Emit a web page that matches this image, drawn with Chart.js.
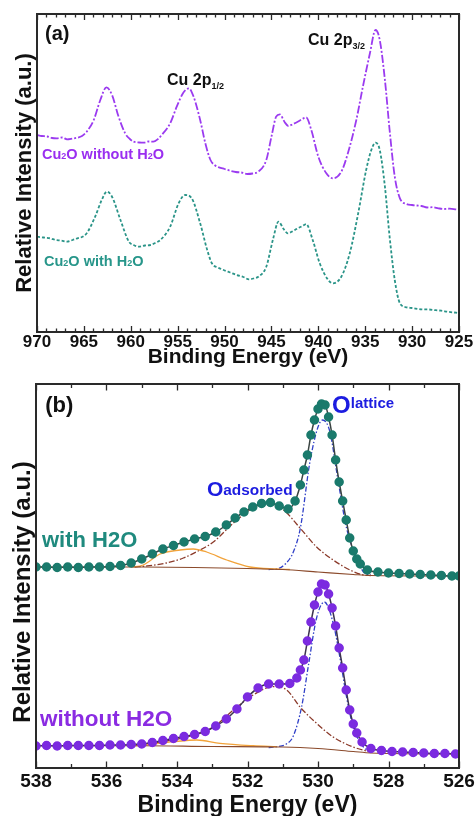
<!DOCTYPE html>
<html>
<head>
<meta charset="utf-8">
<script src="https://cdn.jsdelivr.net/npm/chart.js@4.4.0/dist/chart.umd.min.js"></script>
<style>
    body { margin: 0; background: #fff; }
    .panel { position: absolute; left: 0; }
</style>
</head>
<body>
<canvas id="chartA" class="panel" width="476" height="372" style="top:0"></canvas>
<canvas id="chartB" class="panel" width="476" height="444" style="top:372px"></canvas>
<script>
// Data (a) Cu 2p

const energyDryA = [970.0, 969.5, 968.9, 968.4, 967.9, 967.3, 966.8, 966.2, 965.7, 965.2, 964.7, 963.95, 963.25, 962.6, 962.0, 961.3, 960.6, 960.1, 959.7, 959.1, 958.6, 958.1, 957.6, 957.1, 956.7, 955.8, 955.1, 954.4, 953.8, 953.3, 952.6, 952.05, 951.5, 951.0, 950.6, 950.0, 949.4, 948.8, 948.2, 947.6, 947.0, 946.4, 945.55, 945.0, 944.5, 944.1, 943.6, 943.2, 942.7, 942.2, 941.7, 941.3, 940.75, 940.0, 939.15, 938.45, 937.55, 936.85, 935.95, 935.25, 934.5, 933.9, 933.45, 932.9, 932.4, 931.85, 931.3, 930.6, 930.0, 929.5, 929.0, 928.4, 927.8, 927.2, 926.6, 926.0, 925.3, 925.0];
const cuDry = [197, 196, 195.5, 194, 193.7, 194.5, 192.7, 193.5, 194.3, 196, 200.3, 212, 232, 244.7, 237, 215.3, 198.7, 193, 190.3, 189.5, 189.3, 190.5, 190.3, 193, 197, 208.7, 225.3, 239.3, 243.7, 235.3, 212, 188.7, 172, 166.5, 164.7, 163, 161.3, 160, 159.5, 158, 158.5, 160.3, 172, 195.3, 215.3, 217.7, 210, 206, 208, 210.3, 213, 214.7, 202, 175.3, 158.7, 153.7, 160.3, 178.7, 212, 245.3, 278.7, 302, 292, 252, 202, 155.3, 133.7, 128, 127, 126.5, 126, 124.5, 124.8, 123.7, 123, 123.3, 122.7, 122.5];

const energyWetA = [970.0, 969.3, 968.6, 968.0, 967.4, 966.8, 966.2, 965.7, 965.2, 964.7, 963.8, 963.1, 962.55, 962.0, 961.1, 960.2, 959.7, 959.15, 958.5, 957.9, 957.4, 956.85, 955.8, 954.9, 954.2, 953.5, 952.6, 951.85, 951.35, 950.7, 950.1, 949.4, 948.7, 948.0, 947.4, 946.9, 946.4, 945.55, 944.85, 944.25, 943.7, 943.25, 942.7, 942.2, 941.7, 941.3, 940.6, 939.85, 938.95, 938.45, 937.55, 936.65, 935.75, 934.9, 934.35, 933.9, 933.45, 932.9, 932.4, 931.85, 931.3, 930.6, 930.0, 929.0, 928.2, 927.5, 926.9, 926.2, 925.3, 925.0];
const cuWet = [95.3, 94.5, 93.7, 92, 91.5, 90.3, 92, 93.7, 95, 98.7, 115.3, 132, 140.3, 135.3, 112, 90.3, 87, 85.3, 86.5, 87, 89, 92, 105.3, 128.7, 137, 133.7, 108.7, 82, 68.7, 64.5, 62, 59.5, 57, 55, 52.7, 53.5, 55.3, 65.3, 92, 110.3, 103, 98.7, 101, 103.7, 106, 108, 92, 68.7, 52, 48.7, 55.3, 78.7, 118.7, 162, 182, 189.3, 182, 145.3, 95.3, 52, 28.7, 24.7, 24, 22.7, 22.5, 21.8, 21.3, 20.2, 19.3, 19];

// Data (b) O 1s

const energyWet = [538.0, 537.7, 537.4, 537.1, 536.8, 536.5, 536.2, 535.9, 535.6, 535.3, 535.0, 534.7, 534.4, 534.1, 533.8, 533.5, 533.2, 532.9, 532.6, 532.35, 532.1, 531.85, 531.6, 531.35, 531.1, 530.85, 530.65, 530.5, 530.4, 530.3, 530.2, 530.1, 530.0, 529.9, 529.8, 529.7, 529.6, 529.5, 529.4, 529.3, 529.2, 529.1, 529.0, 528.9, 528.8, 528.6, 528.3, 528.0, 527.7, 527.4, 527.1, 526.8, 526.5, 526.2, 526.0];
const oWet = [201, 201, 200.5, 201, 200.5, 201, 201, 201.5, 202.5, 205, 209, 214, 219, 222.5, 226, 229, 231.5, 236, 243, 250, 256, 261, 264.5, 265.5, 262, 259, 267, 283, 298, 313, 333, 348, 359, 364, 363, 351, 333, 308, 286, 267, 248, 230, 217, 209, 204, 198, 196, 195, 194.5, 194, 193.5, 193, 192.5, 192, 192];

const energyDry = [538.0, 537.7, 537.4, 537.1, 536.8, 536.5, 536.2, 535.9, 535.6, 535.3, 535.0, 534.7, 534.4, 534.1, 533.8, 533.5, 533.2, 532.9, 532.6, 532.3, 532.0, 531.7, 531.4, 531.1, 530.8, 530.6, 530.5, 530.4, 530.3, 530.2, 530.1, 530.0, 529.9, 529.8, 529.7, 529.6, 529.5, 529.4, 529.3, 529.2, 529.1, 529.0, 528.9, 528.75, 528.5, 528.2, 527.9, 527.6, 527.3, 527.0, 526.7, 526.4, 526.1];
const oDry = [22, 22.5, 22, 22.5, 22.5, 22.5, 22.5, 23, 23, 23.5, 24, 25.5, 27.5, 29.5, 31.5, 33.5, 36.5, 42, 49, 59, 71, 80, 84, 84, 84.5, 90, 98, 108, 127, 146, 163, 176, 184, 183, 174, 160, 142, 120, 100, 78, 58, 44, 35, 26, 19.5, 17.5, 16.5, 16, 15.5, 15, 14.5, 14.5, 14];

// fitted peaks, with H2O
const bgWetE = [538, 535, 533.5, 532, 531, 530, 529, 528.5, 526];
const bgWet = [201, 201, 200.5, 199.5, 198.5, 196, 193.5, 192.5, 192];
const latticeWetE = [531.4, 531.17, 530.9, 530.7, 530.5, 530.23, 530.0, 529.87, 529.66, 529.47, 529.19, 528.9, 528.71, 528.5];
const latticeWet = [198.5, 199, 205, 216, 240, 306, 341, 348, 336, 296, 240, 210, 196, 193];
const adsorbedWetE = [535.2, 534.86, 534.3, 533.82, 533.4, 532.97, 532.4, 531.84, 531.46, 530.98, 530.51, 530.04, 529.57, 529.09, 528.71, 528.5];
const adsorbedWet = [201, 202, 205, 210, 217, 226, 245, 260, 265, 258, 240, 221, 208, 198, 193, 192.5];
const hydroxylWetE = [535.3, 534.96, 534.48, 533.91, 533.54, 533.16, 532.59, 531.93, 531.17, 530.8];
const hydroxylWet = [201, 203, 214, 218, 219, 216, 208, 201, 199, 198.5];

// fitted peaks, without H2O
const bgDryE = [538, 535, 533, 531, 530, 529, 528.5, 526];
const bgDry = [22.3, 22.3, 21.5, 21, 19.5, 16.5, 15, 14];
const latticeDryE = [531.4, 531.17, 530.9, 530.7, 530.46, 530.27, 530.04, 529.82, 529.57, 529.38, 529.19, 529.0, 528.71, 528.43];
const latticeDry = [20.5, 21.3, 24, 32, 62, 103, 150, 166, 145, 111, 71, 41, 21, 16];
const adsorbedDryE = [535.3, 534.77, 534.2, 533.72, 532.97, 532.4, 531.84, 531.27, 530.89, 530.51, 530.04, 529.57, 529.0, 528.52];
const adsorbedDry = [22.3, 24.7, 27.5, 31, 41, 58, 73, 81.3, 78, 61, 44.7, 31, 21, 16];
const hydroxylDryE = [535.3, 535.05, 534.1, 533.44, 532.78, 531.84, 531.17];
const hydroxylDry = [22.3, 22.5, 26.3, 28, 24.7, 22.3, 21.3];

const FONT = "Arial, 'Liberation Sans', Helvetica, sans-serif";

function pts(xs, ys) {
    return xs.map((x, i) => ({ x: x, y: ys[i] }));
}

// Frame + inward ticks

const frameTicks = {
    id: 'frameTicks',
    afterDatasetsDraw(chart, args, opts) {
        const { ctx, chartArea: a, scales: { x } } = chart;
        ctx.save();
        ctx.strokeStyle = '#2a2a2a';
        ctx.lineWidth = 1.3;
        for (let v = x.min; v <= x.max + 1e-6; v += opts.minor) {
            const px = Math.round(x.getPixelForValue(v)) + 0.5;
            const r = v / opts.major;
            const len = Math.abs(r - Math.round(r)) < 1e-6 ? opts.majorLen : opts.minorLen;
            ctx.beginPath();
            ctx.moveTo(px, a.bottom);
            ctx.lineTo(px, a.bottom - len);
            ctx.moveTo(px, a.top);
            ctx.lineTo(px, a.top + len);
            ctx.stroke();
        }
        ctx.lineWidth = 2;
        ctx.strokeRect(a.left, a.top, a.right - a.left, a.bottom - a.top);
        ctx.restore();
    }
};

// Text labels inside the plot

const notes = {
    id: 'notes',
    afterDraw(chart, args, opts) {
        const { ctx, chartArea: a, scales: { x, y } } = chart;
        ctx.save();
        ctx.textBaseline = 'alphabetic';
        ctx.textAlign = 'left';
        opts.items.forEach(it => {
            let px = x.getPixelForValue(it.x);
            const py = y.getPixelForValue(it.y);
            ctx.fillStyle = it.color;
            it.parts.forEach(p => {
                ctx.font = p.font;
                ctx.fillText(p.t, px, py + (p.dy || 0));
                px += ctx.measureText(p.t).width;
            });
        });

        // y axis title
        const t = opts.yTitle;
        ctx.translate(t.x, (a.top + a.bottom) / 2 + t.dy);
        ctx.rotate(-Math.PI / 2);
        ctx.textAlign = 'center';
        ctx.textBaseline = 'middle';
        ctx.font = t.font;
        ctx.fillStyle = '#111';
        ctx.fillText(t.text, 0, 0);
        ctx.restore();
    }
};

const bold = s => 'bold ' + s + 'px ' + FONT;

// Chart (a)

new Chart(document.getElementById('chartA'), {
    type: 'line',
    data: {
        datasets: [
            {
                data: pts(energyDryA, cuDry),
                borderColor: '#9b3bf0',
                borderWidth: 1.8,
                borderDash: [8, 2, 2, 2],
                pointRadius: 0,
                cubicInterpolationMode: 'monotone'
            },
            {
                data: pts(energyWetA, cuWet),
                borderColor: '#2a9488',
                borderWidth: 1.8,
                borderDash: [3, 2],
                pointRadius: 0,
                cubicInterpolationMode: 'monotone'
            }
        ]
    },
    options: {
        responsive: false,
        animation: false,
        layout: { padding: { left: 37, right: 17, top: 14, bottom: 0 } },
        plugins: {
            legend: { display: false },
            tooltip: { enabled: false },
            frameTicks: { major: 5, minor: 1, majorLen: 6, minorLen: 3.5 },
            notes: {
                yTitle: { text: 'Relative Intensity (a.u.)', font: bold(22), x: 25, dy: 0 },
                items: [
                    { x: 969.15, y: 292, color: '#111', parts: [{ t: '(a)', font: bold(20) }] },
                    { x: 956.14, y: 247, color: '#111', parts: [{ t: 'Cu 2p', font: bold(16) }, { t: '1/2', font: bold(9), dy: 4 }] },
                    { x: 941.1, y: 287, color: '#111', parts: [{ t: 'Cu 2p', font: bold(16) }, { t: '3/2', font: bold(9), dy: 4 }] },
                    { x: 969.47, y: 173, color: '#9a2ef0', parts: [{ t: 'Cu', font: bold(14.5) }, { t: '2', font: bold(9) }, { t: 'O without H', font: bold(14.5) }, { t: '2', font: bold(9) }, { t: 'O', font: bold(14.5) }] },
                    { x: 969.25, y: 66, color: '#27968a', parts: [{ t: 'Cu', font: bold(14.5) }, { t: '2', font: bold(9) }, { t: 'O with H', font: bold(14.5) }, { t: '2', font: bold(9) }, { t: 'O', font: bold(14.5) }] }
                ]
            }
        },
        scales: {
            x: {
                type: 'linear',
                reverse: true,
                min: 925,
                max: 970,
                afterFit(s) { s.height = 40; },
                ticks: { stepSize: 5, padding: 0, maxRotation: 0, autoSkip: false, color: '#111', font: { family: FONT, size: 17, weight: 'bold' } },
                grid: { display: false, drawTicks: false },
                border: { display: false },
                title: { display: true, text: 'Binding Energy (eV)', color: '#111', padding: { top: 0, bottom: 2 }, font: { family: FONT, size: 21, weight: 'bold' } }
            },
            y: { display: false, min: 0, max: 318 }
        }
    },
    plugins: [frameTicks, notes]
});

// Chart (b)

const fitLine = (xs, ys, color, dash, width) => ({
    data: pts(xs, ys),
    borderColor: color,
    borderWidth: width,
    borderDash: dash,
    pointRadius: 0,
    cubicInterpolationMode: 'monotone',
    order: 2
});

new Chart(document.getElementById('chartB'), {
    type: 'line',
    data: {
        datasets: [
            {
                data: pts(energyWet, oWet),
                borderColor: '#3a4442',
                borderWidth: 1.5,
                pointRadius: 4,
                pointBackgroundColor: '#1a7a6c',
                pointBorderColor: '#1a7a6c',
                cubicInterpolationMode: 'monotone',
                order: 0
            },
            {
                data: pts(energyDry, oDry),
                borderColor: '#3d3350',
                borderWidth: 1.5,
                pointRadius: 4,
                pointBackgroundColor: '#7b2be0',
                pointBorderColor: '#7b2be0',
                cubicInterpolationMode: 'monotone',
                order: 0
            },
            fitLine(bgWetE, bgWet, '#8b4a2b', [], 1.1),
            fitLine(hydroxylWetE, hydroxylWet, '#f2a33a', [], 1.3),
            fitLine(adsorbedWetE, adsorbedWet, '#8b3a2a', [6, 2, 1.5, 2], 1.3),
            fitLine(latticeWetE, latticeWet, '#3040c8', [5, 2, 1.5, 2], 1.3),
            fitLine(bgDryE, bgDry, '#8b4a2b', [], 1.1),
            fitLine(hydroxylDryE, hydroxylDry, '#f2a33a', [], 1.3),
            fitLine(adsorbedDryE, adsorbedDry, '#8b3a2a', [6, 2, 1.5, 2], 1.3),
            fitLine(latticeDryE, latticeDry, '#3040c8', [5, 2, 1.5, 2], 1.3)
        ]
    },
    options: {
        responsive: false,
        animation: false,
        layout: { padding: { left: 36, right: 17, top: 12, bottom: 0 } },
        plugins: {
            legend: { display: false },
            tooltip: { enabled: false },
            frameTicks: { major: 2, minor: 1, majorLen: 6.5, minorLen: 4 },
            notes: {
                yTitle: { text: 'Relative Intensity (a.u.)', font: bold(24), x: 23, dy: 16 },
                items: [
                    { x: 537.74, y: 356, color: '#111', parts: [{ t: '(b)', font: bold(22) }] },
                    { x: 529.6, y: 355, color: '#1c1ce0', parts: [{ t: 'O', font: bold(24) }, { t: 'lattice', font: bold(15), dy: -5 }] },
                    { x: 533.15, y: 272, color: '#1c1ce0', parts: [{ t: 'O', font: bold(21) }, { t: 'adsorbed', font: bold(15.4), dy: -1 }] },
                    { x: 537.83, y: 221, color: '#1f8a7e', parts: [{ t: 'with H2O', font: bold(22) }] },
                    { x: 537.89, y: 42, color: '#8a2be2', parts: [{ t: 'without H2O', font: bold(22.5) }] }
                ]
            }
        },
        scales: {
            x: {
                type: 'linear',
                reverse: true,
                min: 526,
                max: 538,
                afterFit(s) { s.height = 48; },
                ticks: { stepSize: 2, padding: 0, maxRotation: 0, autoSkip: false, color: '#111', font: { family: FONT, size: 19, weight: 'bold', lineHeight: 1.5 } },
                grid: { display: false, drawTicks: false },
                border: { display: false },
                title: { display: true, text: 'Binding Energy (eV)', color: '#111', padding: { top: 0, bottom: -3 }, font: { family: FONT, size: 23, weight: 'bold' } }
            },
            y: { display: false, min: 0, max: 384 }
        }
    },
    plugins: [frameTicks, notes]
});
</script>
</body>
</html>
